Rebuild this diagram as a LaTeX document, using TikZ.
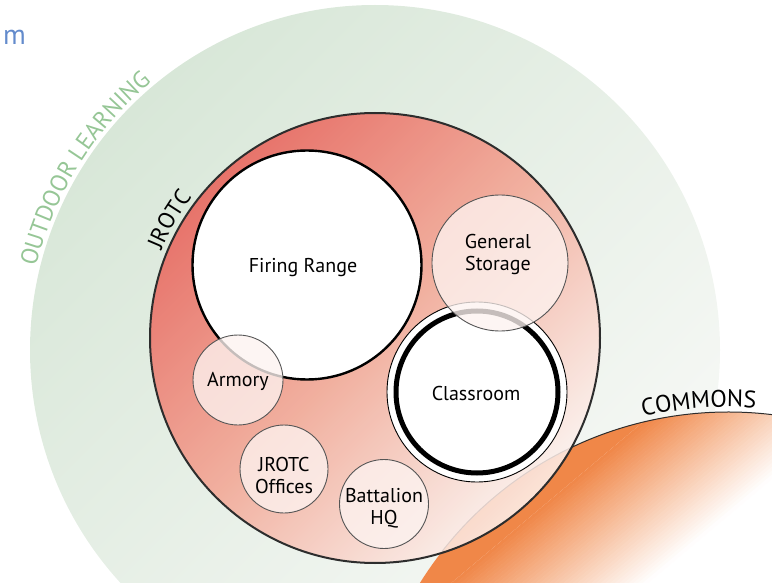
\documentclass[tikz,border=0pt]{standalone}
\usepackage{fontspec}
\setmainfont{PT Sans}
\usetikzlibrary{decorations.text}

\definecolor{outdoortop}{RGB}{216,231,216}
\definecolor{outdoorbot}{RGB}{248,249,247}
\definecolor{outdoortext}{RGB}{150,198,150}
\definecolor{jrotctop}{RGB}{233,96,88}
\definecolor{jrotcmid}{RGB}{243,166,148}
\definecolor{jrotcbot}{RGB}{253,242,238}
\definecolor{commonsorange}{RGB}{240,135,72}
\definecolor{zoneline}{RGB}{45,45,45}
\definecolor{roomline}{RGB}{85,85,85}
\definecolor{roomfill}{RGB}{253,243,240}
\definecolor{linkblue}{RGB}{99,139,204}

\newcommand{\roomfont}{\fontsize{20}{22}\selectfont}
\newcommand{\zonefont}{\fontsize{24}{24}\selectfont}

\tikzset{
  zone/.style={circle, inner sep=0pt, outer sep=0pt},
  room/.style={circle, inner sep=0pt, outer sep=0pt, draw=roomline, line width=0.9pt,
    fill=roomfill, fill opacity=0.78},
  lbl/.style={inner sep=0pt, font=\roomfont, align=center, text=black},
}

\begin{document}
\begin{tikzpicture}[x=1pt,y=1pt]
  \useasboundingbox (0,0) rectangle (772,-583);

  % zones
  \node[zone, minimum size=690pt, top color=outdoortop, bottom color=outdoorbot,
    shading angle=45] (outdoor) at (375,-350) {};
  \node[zone, minimum size=726pt, fill=white] (commons) at (728,-775) {};
  % orange wash on the commons, fading out in strips towards the lower right
  \begin{scope}
    \clip (commons.center) circle (363);
    \begin{scope}[shift={(commons.center)}, rotate=-50]
      \fill[commonsorange] (-800,-500) rectangle (-325,500);
      \foreach \i in {0,...,41} {
        \pgfmathsetmacro\pct{100*(1-(\i+0.5)/42)}
        \fill[commonsorange!\pct!white] (-325+3*\i,-500) rectangle (-321.5+3*\i,500);
      }
    \end{scope}
  \end{scope}
  \draw[zoneline, line width=1pt] ([shift={(142:363)}]commons.center) arc[start angle=142, end angle=55, radius=363];

  \node[zone, minimum size=450pt, top color=jrotctop, bottom color=jrotcbot,
    middle color=jrotcmid, shading angle=45, fill opacity=0.86,
    draw=zoneline, line width=2pt] (jrotc) at (375,-338) {};

  % zone names along the rims
  \path[decorate, decoration={text along path, text align=center,
      text={|\zonefont\color{outdoortext}|OUTDOOR LEARNING}}]
    ([shift={(175:349)}]outdoor.center) arc[start angle=175, end angle=121, radius=349];
  \path[decorate, decoration={text along path, text align=center,
      text={|\fontsize{23}{23}\selectfont|JROTC}}]
    ([shift={(170:231)}]jrotc.center) arc[start angle=170, end angle=130, radius=231];
  \path[decorate, decoration={text along path, text align=center,
      text={|\zonefont|COMMONS}}]
    ([shift={(115:368)}]commons.center) arc[start angle=115, end angle=74, radius=368];

  % big rooms
  \node[zone, minimum size=229pt, fill=white, draw=black, line width=2.4pt] (range) at (307,-265) {};
  \node[zone, minimum size=180pt, fill=white, draw=black, line width=0.9pt] (classroom) at (477,-392) {};
  \draw[line width=5pt] (classroom.center) circle (81);

  % small rooms
  \node[room, minimum size=136pt] (storage) at (500,-263) {};
  \node[room, minimum size=90pt] (armory) at (238,-380) {};
  \node[room, minimum size=88pt] (offices) at (284,-469) {};
  \node[room, minimum size=89pt] (hq) at (384,-504) {};

  % room names
  \node[lbl] (range-txt) at (303,-268) {Firing Range};
  \node[lbl] (classroom-txt) at (476,-393) {Classroom};
  \node[lbl] (storage-txt) at (498,-255) {General\\Storage};
  \node[lbl] (armory-txt) at (238,-381) {Armory};
  \node[lbl] (offices-txt) at (284,-475) {JROTC\\Offices};
  \node[lbl] (hq-txt) at (384,-508) {Battalion\\HQ};

  \node[inner sep=0pt, anchor=base west, text=linkblue, font=\fontsize{28}{28}\selectfont] (m) at (3,-45) {m};
\end{tikzpicture}
\end{document}
